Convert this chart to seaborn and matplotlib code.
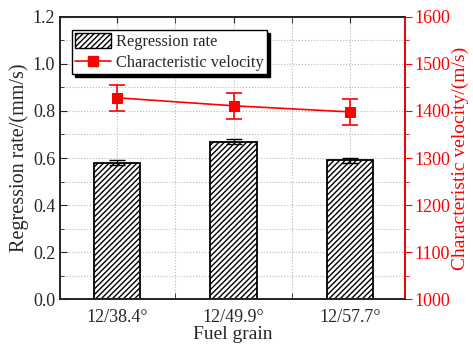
import numpy as np
import matplotlib.pyplot as plt
import seaborn as sns
from matplotlib.patches import Patch
from matplotlib.lines import Line2D
from matplotlib.ticker import MultipleLocator

# ----- Data -----
grains = ["12/38.4°", "12/49.9°", "12/57.7°"]
rate = [0.58, 0.67, 0.59]
rate_err = [0.01, 0.01, 0.01]
cstar = [1428, 1411, 1398]
cstar_err = [28, 27, 27]

sns.set_style("ticks")
plt.rcParams["font.family"] = ["Liberation Serif", "DejaVu Serif"]
plt.rcParams["hatch.linewidth"] = 1.0
plt.rcParams["axes.linewidth"] = 1.3

fig = plt.figure(figsize=(4.73, 3.45), dpi=100)
ax = fig.add_axes([0.127, 0.133, 0.729, 0.818])

# ----- Bars -----
sns.barplot(x=grains, y=rate, ax=ax, color="white", edgecolor="black",
            linewidth=1.3, width=0.4, zorder=3)
for p in ax.patches:
    p.set_hatch("//////")
ax.errorbar(range(3), rate, yerr=rate_err, fmt="none", ecolor="black",
            elinewidth=1, capsize=6, capthick=1, zorder=4)

ax.set_xlim(-0.49, 2.47)
ax.set_ylim(0, 1.2)
ax.yaxis.set_major_locator(MultipleLocator(0.2))
ax.yaxis.set_minor_locator(MultipleLocator(0.1))
ax.set_xticks([0, 1, 2], minor=False)
ax.set_xticks([0.5, 1.5], minor=True)
ax.tick_params(axis="both", which="both", direction="in", top=True, labelsize=13)
ax.tick_params(axis="x", which="both", length=4, pad=7)
ax.tick_params(axis="y", which="major", length=5)
ax.tick_params(axis="y", which="minor", length=3)
ax.grid(True, which="both", color="#b8b8b8", linestyle=":", linewidth=0.8, zorder=0)
ax.set_axisbelow(True)
ax.set_xlabel("Fuel grain", fontsize=14, labelpad=0)
ax.set_ylabel("Regression rate/(mm/s)", fontsize=14.5, labelpad=3)
ax.yaxis.set_major_formatter(plt.FormatStrFormatter("%.1f"))

# ----- Characteristic velocity -----
ax2 = ax.twinx()
sns.lineplot(x=[0, 1, 2], y=cstar, ax=ax2, color="red", marker="s",
             markersize=6.5, markeredgecolor="red", linewidth=1.2, zorder=5)
ax2.errorbar([0, 1, 2], cstar, yerr=cstar_err, fmt="none", ecolor="red",
             elinewidth=1.2, capsize=6, capthick=1.2, zorder=5)
ax2.set_ylim(1000, 1600)
ax2.yaxis.set_major_locator(MultipleLocator(100))
ax2.yaxis.set_minor_locator(MultipleLocator(50))
ax2.tick_params(axis="y", which="both", direction="out", colors="red",
                labelsize=13, pad=2)
ax2.tick_params(axis="y", which="major", length=5)
ax2.tick_params(axis="y", which="minor", length=3)
ax2.spines["right"].set_color("red")
ax2.set_ylabel("Characteristic velocity/(m/s)", color="red", fontsize=14, labelpad=1)

handles = [
    Patch(facecolor="white", edgecolor="black", hatch="//////", linewidth=1),
    Line2D([0], [0], color="red", marker="s", markersize=6.5, linewidth=1.2),
]
leg = ax2.legend(handles, ["Regression rate", "Characteristic velocity"],
                 loc="upper left", bbox_to_anchor=(0.035, 0.954), fontsize=11.8,
                 frameon=True, fancybox=False, edgecolor="black",
                 shadow={"color": "black", "alpha": 1}, framealpha=1,
                 borderpad=0.2, labelspacing=0.25, handlelength=2.2,
                 handleheight=1.0, handletextpad=0.3, borderaxespad=0)
leg.get_frame().set_linewidth(1.0)

fig.savefig("out.png", dpi=100)
